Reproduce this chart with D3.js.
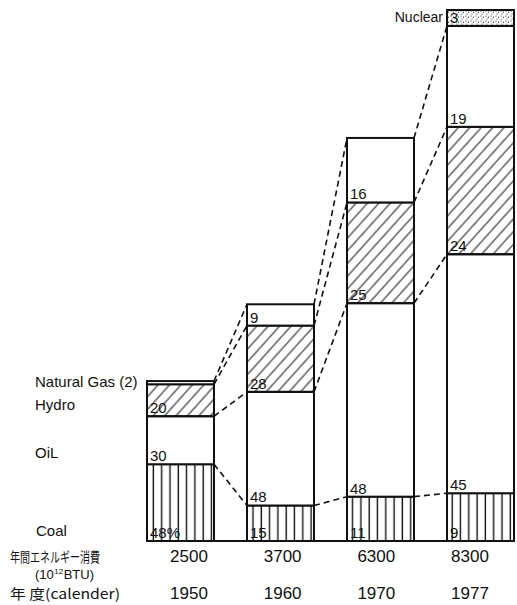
<!DOCTYPE html>
<html>
<head>
<meta charset="utf-8">
<script src="https://cdn.jsdelivr.net/npm/d3@7"></script>
<style>
  body { margin: 0; background: #fff; }
  text { font-family: "Liberation Sans", Arial, sans-serif; fill: #111; }
  .cjk { font-family: "Noto Sans CJK JP", sans-serif; }
</style>
</head>
<body>
<div id="chart-area"></div>
<script>
var width = 517,
    height = 605;

// Data (percent shares, bottom to top)
var years = ["1950", "1960", "1970", "1977"];
var totals = [2500, 3700, 6300, 8300];
var coal = [48, 15, 11, 9];
var oil = [30, 48, 48, 45];
var hydro = [20, 28, 25, 24];
var gas = [2, 9, 16, 19];
var nuclear = [0, 0, 0, 3];
var coalLabels = ["48%", "15", "11", "9"];
var oilLabels = ["30", "48", "48", "45"];
var hydroLabels = ["20", "28", "25", "24"];
var gasLabels = ["", "9", "16", "19"];
var nuclearLabels = ["", "", "", "3"];

var keys = ["coal", "oil", "hydro", "gas", "nuclear"];
var shares = { coal: coal, oil: oil, hydro: hydro, gas: gas, nuclear: nuclear };
var segLabels = { coal: coalLabels, oil: oilLabels, hydro: hydroLabels, gas: gasLabels, nuclear: nuclearLabels };

var rows = years.map(function(y, i) {
  var r = { year: y, total: totals[i] };
  keys.forEach(function(k) { r[k] = shares[k][i] * totals[i] / 100; });
  return r;
});

var svg = d3.select("#chart-area").append("svg")
    .attr("width", width)
    .attr("height", height);

var x = d3.scaleBand().domain(years).range([147, 514]).paddingInner(0.33);
var y = d3.scaleLinear().domain([0, 8300]).range([541, 10]);
// columns for the value rows under the bars
var xl = d3.scalePoint().domain(years).range([189, 470]);

var stack = d3.stack().keys(keys)(rows);

// patterns
var defs = svg.append("defs");
var diag = defs.append("pattern")
    .attr("id", "diag")
    .attr("patternUnits", "userSpaceOnUse")
    .attr("width", 8.5).attr("height", 8.5)
    .attr("patternTransform", "rotate(42)");
diag.append("line").attr("x1", 1).attr("y1", 0).attr("x2", 1).attr("y2", 8.5)
    .attr("stroke", "#111").attr("stroke-width", 1);

var vert = defs.append("pattern")
    .attr("id", "vert")
    .attr("patternUnits", "userSpaceOnUse")
    .attr("width", 8.3).attr("height", 20);
vert.append("line").attr("x1", 4).attr("y1", 0).attr("x2", 4).attr("y2", 20)
    .attr("stroke", "#111").attr("stroke-width", 1.4);

var dots = defs.append("pattern")
    .attr("id", "dots")
    .attr("patternUnits", "userSpaceOnUse")
    .attr("width", 5).attr("height", 5);
[[1, 1], [3.5, 2.2], [2, 4]].forEach(function(p) {
  dots.append("circle").attr("cx", p[0]).attr("cy", p[1]).attr("r", 0.6).attr("fill", "#222");
});

var fills = { coal: "url(#vert)", oil: "#fff", hydro: "url(#diag)", gas: "#fff", nuclear: "url(#dots)" };

// dashed connectors between segment tops
stack.forEach(function(layer) {
  for (var i = 0; i < layer.length - 1; i++) {
    var a = layer[i], b = layer[i + 1];
    if (a[1] - a[0] <= 0 || b[1] - b[0] <= 0) continue;
    svg.append("line")
      .attr("x1", x(years[i]) + x.bandwidth()).attr("y1", y(a[1]))
      .attr("x2", x(years[i + 1])).attr("y2", y(b[1]))
      .attr("stroke", "#111").attr("stroke-width", 1.6)
      .attr("stroke-dasharray", "6,4");
  }
});

// segments
var layers = svg.selectAll(".layer")
  .data(stack)
  .enter().append("g")
    .attr("class", "layer");

layers.selectAll("rect")
  .data(function(d) { return d.filter(function(s) { return s[1] - s[0] > 0; }); })
  .enter().append("rect")
    .attr("x", function(d) { return x(d.data.year); })
    .attr("y", function(d) { return y(d[1]); })
    .attr("width", x.bandwidth())
    .attr("height", function(d) { return y(d[0]) - y(d[1]); })
    .style("fill", function() { return fills[d3.select(this.parentNode).datum().key]; })
    .style("stroke", "#111")
    .style("stroke-width", 2);

// segment numbers
stack.forEach(function(layer) {
  layer.forEach(function(s, i) {
    var t = segLabels[layer.key][i];
    if (!t) return;
    svg.append("text")
      .attr("x", x(years[i]) + 3)
      .attr("y", y(s[0]) - 3)
      .attr("font-size", 15)
      .text(t);
  });
});

// baseline
svg.append("line")
  .attr("x1", x(years[0])).attr("x2", x(years[3]) + x.bandwidth())
  .attr("y1", y(0)).attr("y2", y(0))
  .attr("stroke", "#111").attr("stroke-width", 2.2);

// left legend labels
var first = rows[0];
var cum = d3.cumsum(keys.map(function(k) { return first[k]; }));
svg.append("text").attr("x", 35).attr("y", y(cum[3]) + 6).attr("font-size", 15).text("Natural Gas  (2)");
svg.append("text").attr("x", 35).attr("y", y(cum[1]) - 6).attr("font-size", 15).text("Hydro");
svg.append("text").attr("x", 35).attr("y", y(cum[0]) - 6).attr("font-size", 15).text("OiL");
svg.append("text").attr("x", 36).attr("y", y(0) - 5).attr("font-size", 15).text("Coal");
svg.append("text").attr("x", x("1977") - 4).attr("y", y(totals[3]) + 12)
  .attr("text-anchor", "end").attr("font-size", 14).text("Nuclear");

// bottom rows
svg.append("text").attr("class", "cjk").attr("x", 10).attr("y", 562)
  .attr("font-size", 14).attr("textLength", 90).attr("lengthAdjust", "spacingAndGlyphs")
  .text("年間エネルギー消費");

// unit line: (10^12 BTU) as separate pieces so nothing overlaps
var ux = 35, uy = 579;
var p1 = svg.append("text").attr("x", ux).attr("y", uy).attr("font-size", 13).text("(10");
var w1 = p1.node().getComputedTextLength();
var p2 = svg.append("text").attr("x", ux + w1 + 0.5).attr("y", uy - 5).attr("font-size", 8).text("12");
var w2 = p2.node().getComputedTextLength();
svg.append("text").attr("x", ux + w1 + w2 + 1).attr("y", uy).attr("font-size", 13).text("BTU)");

svg.append("text").attr("class", "cjk").attr("x", 10).attr("y", 599)
  .attr("font-size", 14).attr("textLength", 110).attr("lengthAdjust", "spacingAndGlyphs")
  .text("年 度(calender)");

svg.selectAll(".tot")
  .data(totals)
  .enter().append("text")
    .attr("class", "tot")
    .attr("x", function(d, i) { return xl(years[i]); })
    .attr("y", 562)
    .attr("text-anchor", "middle")
    .attr("font-size", 17)
    .text(function(d) { return d; });

svg.selectAll(".yr")
  .data(years)
  .enter().append("text")
    .attr("class", "yr")
    .attr("x", function(d) { return xl(d); })
    .attr("y", 599)
    .attr("text-anchor", "middle")
    .attr("font-size", 17)
    .text(function(d) { return d; });
</script>
</body>
</html>
